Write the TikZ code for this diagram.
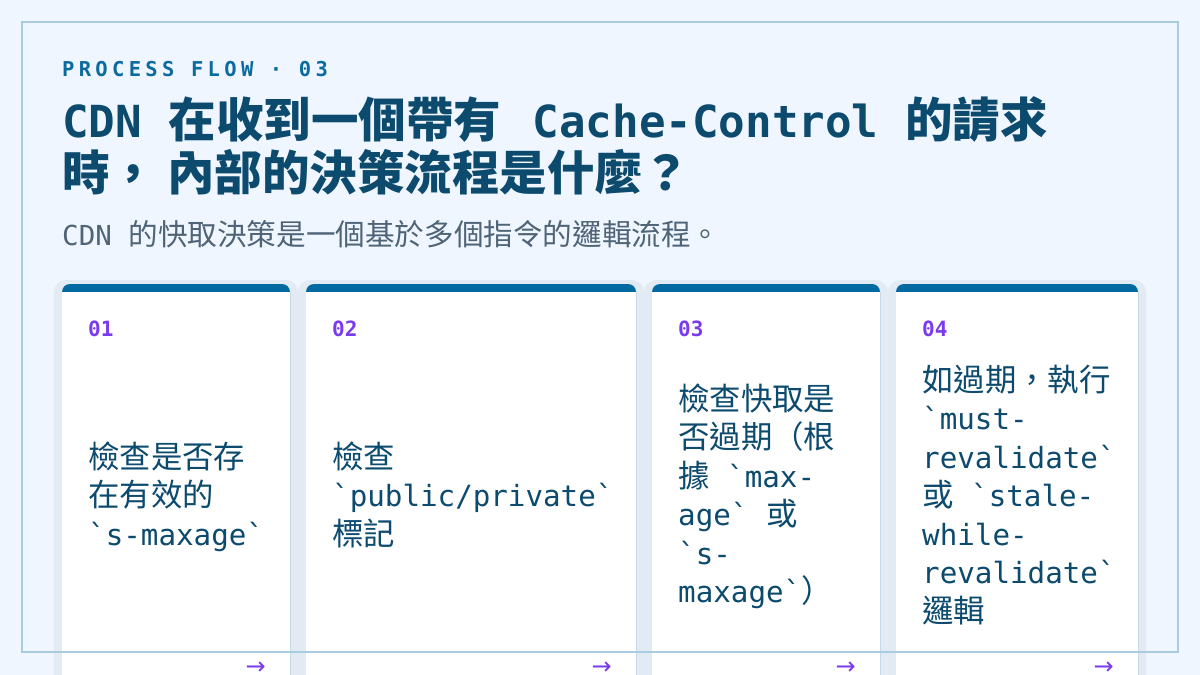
\documentclass[tikz,border=0pt]{standalone}
\usepackage{fontspec}
\newfontfamily\cjk{Noto Sans CJK TC}
\newfontfamily\mono[Scale=0.93]{DejaVu Sans Mono}
\newfontfamily\flowfont[LetterSpace=21]{DejaVu Sans Mono}
\newfontfamily\arrowfont{DejaVu Sans}
\newcommand\en[1]{{\mono #1}}
\definecolor{pagebg}{HTML}{EFF6FF}
\definecolor{framec}{HTML}{A9CBE0}
\definecolor{flowc}{HTML}{0B6A9E}
\definecolor{titlec}{HTML}{0C4A6E}
\definecolor{subc}{HTML}{4F6477}
\definecolor{barc}{HTML}{0369A1}
\definecolor{shadowc}{HTML}{E2EAF4}
\definecolor{numc}{HTML}{7C3AED}
\begin{document}
\begin{tikzpicture}[x=1pt,y=-1pt,every node/.style={inner sep=0pt},
  cardshadow/.style={fill=shadowc,rounded corners=12pt},
  cardbar/.style={fill=barc,rounded corners=8pt},
  cardnum/.style={anchor=base west,text=numc,font=\mono\bfseries\fontsize{22.6}{24}\selectfont},
  cardtext/.style={anchor=base west,align=left,text=titlec,font=\cjk\fontsize{31.4}{38.5}\selectfont},
  nextarrow/.style={anchor=east,text=numc,font=\arrowfont\fontsize{24}{24}\selectfont}]
\clip (0,0) rectangle (1200,675);
\fill[pagebg] (0,0) rectangle (1200,675);

\fill[cardshadow] (54,280) rectangle (298,700);
\fill[cardshadow] (298,280) rectangle (644,700);
\fill[cardshadow] (644,280) rectangle (888,700);
\fill[cardshadow] (888,280) rectangle (1146,700);

\fill[cardbar] (62,284) rectangle (290,700);
\fill[white] (62,292) rectangle (290,700);
\fill[cardbar] (306,284) rectangle (636,700);
\fill[white] (306,292) rectangle (636,700);
\fill[cardbar] (652,284) rectangle (880,700);
\fill[white] (652,292) rectangle (880,700);
\fill[cardbar] (896,284) rectangle (1138,700);
\fill[white] (896,292) rectangle (1138,700);

\draw[framec,line width=2pt] (22,22) rectangle (1178,652);

\node[anchor=base west,text=flowc,font=\flowfont\bfseries\fontsize{20.5}{24}\selectfont] (flowlabel) at (62,76) {PROCESS FLOW · 03};
\node[anchor=base west,align=left,text=titlec,font=\cjk\bfseries\fontsize{47.5}{53}\selectfont] (title) at (62,190)
  {\en{CDN }在收到一個帶有\hspace{5pt}\en{ Cache-Control }的請求\\時，\hspace{10pt}內部的決策流程是什麼？};
\node[anchor=base west,text=subc,font=\cjk\fontsize{29.6}{34}\selectfont] (subtitle) at (62,245) {\en{CDN }的快取決策是一個基於多個指令的邏輯流程。};

\node[cardnum] (num1) at (88,336) {01};
\node[cardnum] (num2) at (332,336) {02};
\node[cardnum] (num3) at (678,336) {03};
\node[cardnum] (num4) at (922,336) {04};

\node[cardtext] (step1) at (88,545) {檢查是否存\\在有效的\\\en{`s-maxage`}};
\node[cardtext] (step2) at (332,545) {檢查\\\en{`public/private`}\\標記};
\node[cardtext] (step3) at (678,602.5) {檢查快取是\\否過期（根\\據\en{ `max-}\\\en{age` }或\\\en{`s-}\\\en{maxage`}）};
\node[cardtext] (step4) at (922,622) {如過期，執行\\\en{`must-}\\\en{revalidate`}\\或\en{ `stale-}\\\en{while-}\\\en{revalidate`}\\邏輯};

\node[nextarrow] (go1) at (266,668) {→};
\node[nextarrow] (go2) at (612,668) {→};
\node[nextarrow] (go3) at (856,668) {→};
\node[nextarrow] (go4) at (1114,668) {→};
\end{tikzpicture}
\end{document}
